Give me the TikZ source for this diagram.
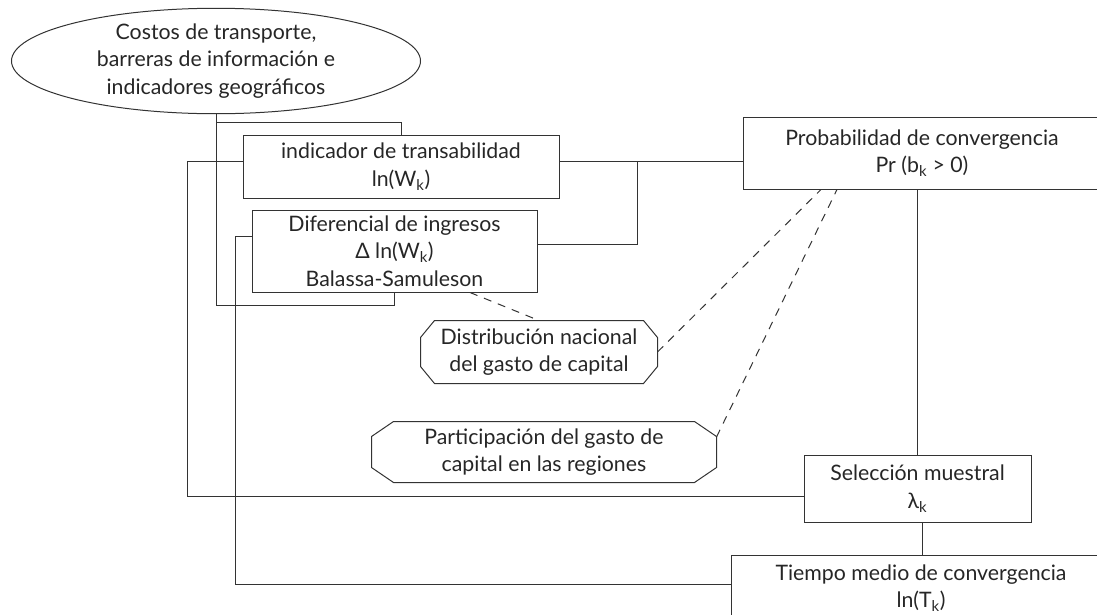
\documentclass[tikz,border=0pt]{standalone}
\usepackage{fontspec}
\setmainfont{Lato}
\usetikzlibrary{shapes.geometric}
\newcommand{\subk}{\textsubscript{k}}
\newcommand{\octagono}[3]{%
  \draw ([xshift=#2]#1.north west) -- ([xshift=-#2]#1.north east)
    -- ([yshift=-#3]#1.north east) -- ([yshift=#3]#1.south east)
    -- ([xshift=-#2]#1.south east) -- ([xshift=#2]#1.south west)
    -- ([yshift=#3]#1.south west) -- ([yshift=-#3]#1.north west) -- cycle;}
\tikzset{
  caja/.style={rectangle, draw=black!80, line width=1pt, align=center, inner sep=0pt},
  octa/.style={rectangle, align=center, inner sep=0pt},
  enlace/.style={dash pattern=on 8pt off 7pt},
}
\begin{document}
\begin{tikzpicture}[x=1pt, y=-1pt, line width=1pt, draw=black!80,
    every node/.append style={font=\fontsize{21.3}{27.5}\selectfont, text=black!85}]
  \useasboundingbox (0,0) rectangle (1097,614);
  \clip (0,0) rectangle (1097,614);

  \node[caja, ellipse, minimum width=409pt, minimum height=104pt] (costos) at (216,61)
    {Costos de transporte,\\barreras de información e\\indicadores geográficos};
  \node[caja, minimum width=316pt, minimum height=63pt] (transab) at (401,166.5)
    {indicador de transabilidad\\ln(W\subk)};
  \node[caja, minimum width=285pt, minimum height=82pt] (difer) at (394.5,251)
    {Diferencial de ingresos\\Δ ln(W\subk)\\Balassa-Samuleson};
  \node[caja, minimum width=358pt, minimum height=72pt] (prob) at (922,153)
    {Probabilidad de convergencia\\Pr (b\subk{} > 0)};
  \node[caja, minimum width=227pt, minimum height=67pt] (selec) at (917.5,488.5)
    {Selección muestral\\λ\subk};
  \node[caja, minimum width=380pt, minimum height=66pt] (tiempo) at (921,588)
    {Tiempo medio de convergencia\\ln(T\subk)};
  \node[octa, minimum width=236pt, minimum height=62pt] (distrib) at (539,352)
    {Distribución nacional\\del gasto de capital};
  \node[octa, minimum width=344pt, minimum height=60pt] (partic) at (544,452)
    {Participación del gasto de\\capital en las regiones};
  \octagono{distrib}{14pt}{17pt}
  \octagono{partic}{22pt}{15pt}

  \coordinate (ramal) at (costos.south |- 0,122);
  \coordinate (cruce) at (637,161.5);

  \draw (costos.south) |- ([yshift=-13pt]difer.south) -- (difer.south);
  \draw (ramal) -| (transab.north);
  \draw ([yshift=5pt]transab.west) -- ++(-55,0) |- ([yshift=-7.5pt]selec.west);
  \draw ([yshift=15pt]difer.west) -- ++(-16,0) |- ([yshift=4pt]tiempo.west);
  \draw ([yshift=5pt]transab.east) -- ([yshift=-8.5pt]prob.west);
  \draw ([yshift=7pt]difer.east) -| (cruce);
  \draw (prob.south -| selec.north) -- (selec.north);
  \draw ([xshift=4.5pt]selec.south) -- ([xshift=4.5pt]selec.south |- tiempo.north);

  \draw[enlace] ([xshift=75.5pt]difer.south) -- (distrib.north);
  \draw[enlace] (distrib.east) -- ([xshift=-101pt]prob.south);
  \draw[enlace] ([yshift=15pt]partic.east) -- ([xshift=-85pt]prob.south);
\end{tikzpicture}
\end{document}
